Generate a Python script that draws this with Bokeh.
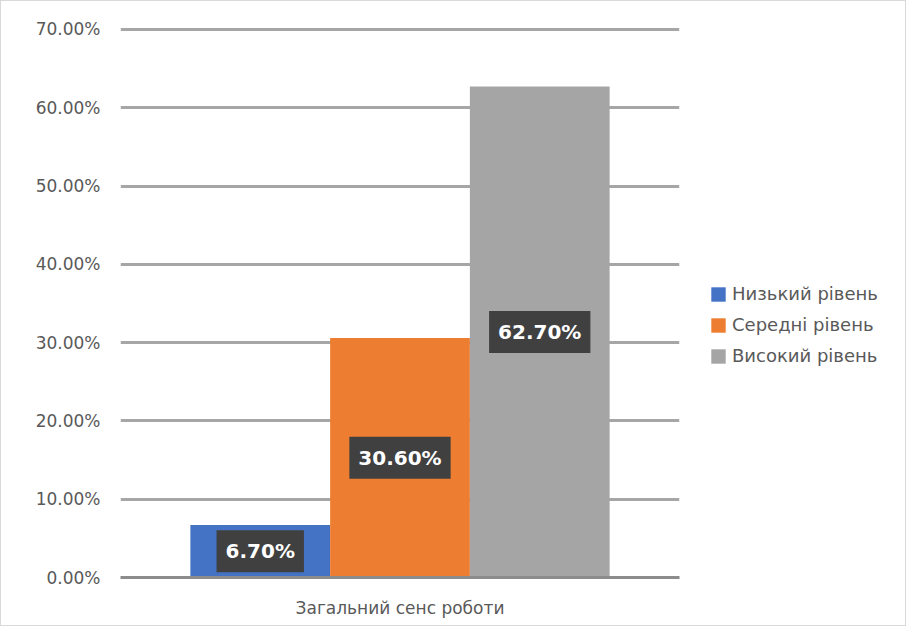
from bokeh.plotting import figure
from bokeh.layouts import row
from bokeh.models import (FactorRange, Range1d, FixedTicker, PrintfTickFormatter,
                          ColumnDataSource, Legend, LegendItem, Label)
from bokeh.transform import dodge
from bokeh.embed import file_html
from bokeh.resources import INLINE

category = ["Загальний сенс роботи"]
series = ["Низький рівень", "Середні рівень", "Високий рівень"]
values = [6.7, 30.6, 62.7]
colors = ["#4472C4", "#ED7D31", "#A5A5A5"]
offsets = [-0.25, 0.0, 0.25]
y_ticks = [0, 10, 20, 30, 40, 50, 60, 70]

FONT = "DejaVu Sans"

p = figure(width=686, height=624, x_range=FactorRange(*category, range_padding=0),
           y_range=Range1d(0, 70.5), output_backend="svg", toolbar_location=None,
           min_border_left=119, min_border_right=8, min_border_top=24, min_border_bottom=48)
p.outline_line_color = None
p.background_fill_color = "white"
p.border_fill_color = "white"

for name, val, col, off in zip(series, values, colors, offsets):
    src = ColumnDataSource(dict(x=category, top=[val]))
    p.vbar(x=dodge("x", off, range=p.x_range), top="top", width=0.25, bottom=0,
           source=src, fill_color=col, line_color=col, line_width=0)
    lab = Label(x=0.5 + off, y=val / 2, text=f"{val:.2f}%", text_color="white",
                text_font=FONT, text_font_style="bold", text_font_size="20px",
                text_align="center", text_baseline="middle",
                background_fill_color="#404040", padding=9)
    p.add_layout(lab)

p.yaxis.ticker = FixedTicker(ticks=y_ticks)
p.yaxis.formatter = PrintfTickFormatter(format="%.2f%%")
p.yaxis.axis_line_color = None
p.yaxis.major_tick_line_color = None
p.yaxis.minor_tick_line_color = None
p.yaxis.major_label_text_font = FONT
p.yaxis.major_label_text_font_size = "17px"
p.yaxis.major_label_text_color = "#595959"
p.yaxis.major_label_standoff = 14

p.xaxis.axis_line_color = "#8c8c8c"
p.xaxis.axis_line_width = 3
p.xaxis.major_tick_line_color = None
p.xaxis.minor_tick_line_color = None
p.xaxis.major_label_text_font = FONT
p.xaxis.major_label_text_font_size = "17px"
p.xaxis.major_label_text_color = "#595959"
p.xaxis.major_label_standoff = 14

p.xgrid.grid_line_color = None
p.ygrid.grid_line_color = "#a6a6a6"
p.ygrid.grid_line_width = 3

# legend panel
p2 = figure(width=218, height=624, x_range=Range1d(0, 1), y_range=Range1d(0, 1),
            output_backend="svg", toolbar_location=None,
            min_border_left=0, min_border_right=0, min_border_top=0, min_border_bottom=0)
p2.axis.visible = False
p2.grid.grid_line_color = None
p2.outline_line_color = None
p2.border_fill_color = "white"

items = []
for name, col in zip(series, colors):
    # zero-size placeholder bar, only used to draw the legend swatch
    r = p2.vbar(x=[0], top=[0], bottom=[0], width=0, fill_color=col,
                line_color=col, line_width=0)
    items.append(LegendItem(label=name, renderers=[r]))

legend = Legend(items=items, location=(22, 211), label_text_font=FONT,
                label_text_font_size="18px", label_text_color="#595959",
                glyph_width=18, glyph_height=18, label_height=18, spacing=10,
                padding=0, margin=0, border_line_color=None,
                background_fill_alpha=0, label_standoff=5)
p2.add_layout(legend, "center")

layout = row(p, p2)
layout.styles = {"border": "1px solid #d9d9d9"}

open("out.html", "w").write(file_html(layout, INLINE))
